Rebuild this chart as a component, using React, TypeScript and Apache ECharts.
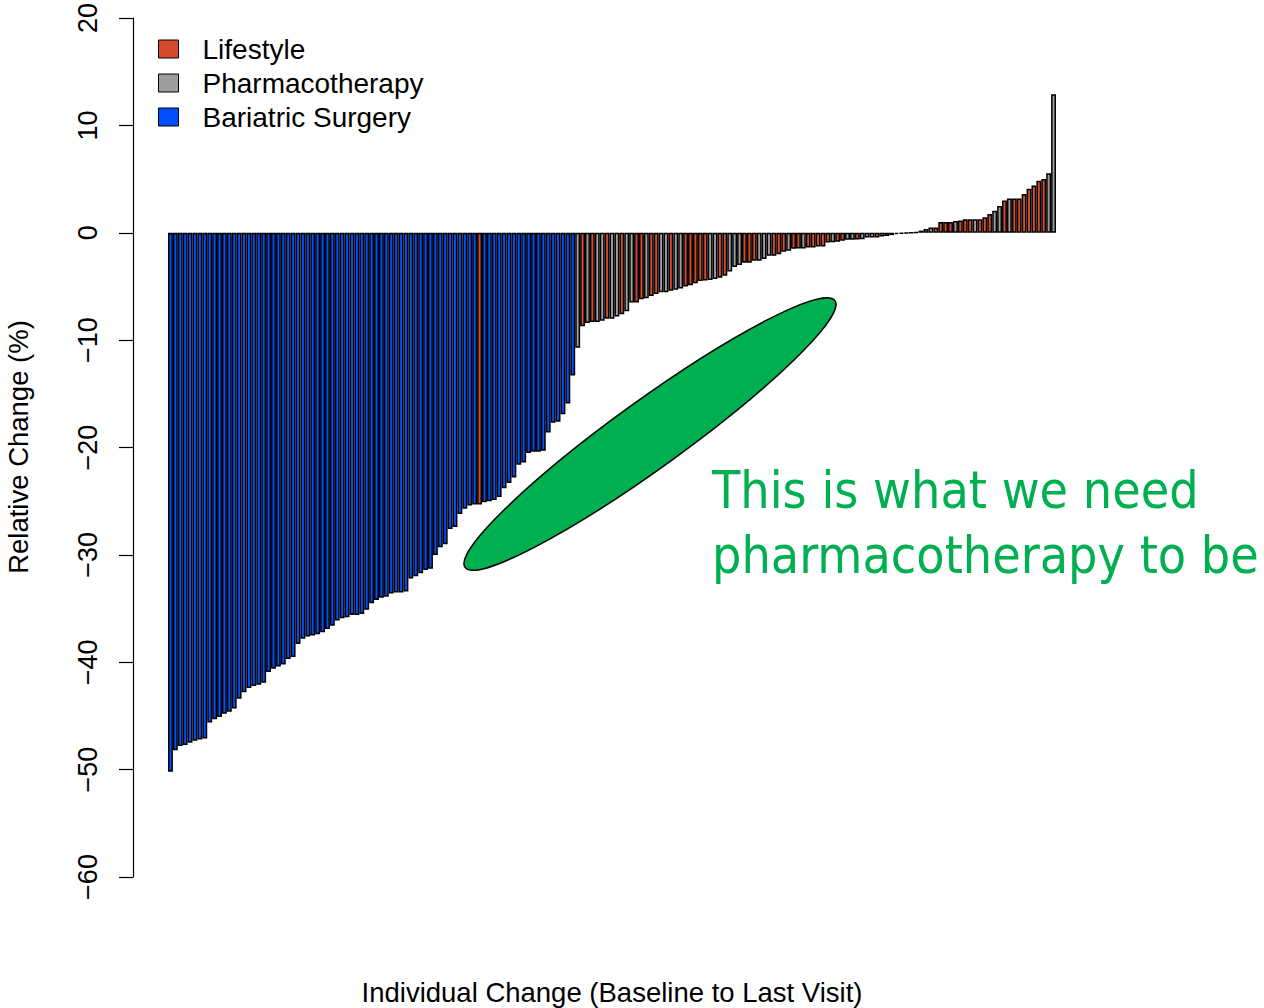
import React, { useEffect, useRef } from "react";
import * as echarts from "echarts";

// Bars sorted from largest loss to largest gain (relative change, %)
const surgerySideValues = [
  -50.2, -48.2, -47.8, -47.7, -47.5, -47.3, -47.2, -47.1, -45.6, -45.3,
  -45.1, -44.8, -44.6, -44.3, -43.4, -42.8, -42.4, -42.2, -42.1, -41.9,
  -40.9, -40.6, -40.4, -40.2, -39.7, -39.5, -38.3, -37.8, -37.6, -37.5,
  -37.4, -37.2, -36.9, -36.6, -36.1, -35.9, -35.8, -35.6, -35.6, -35.5,
  -35.1, -34.5, -34.2, -34.0, -33.9, -33.6, -33.5, -33.5, -33.4, -32.2,
  -32.0, -31.7, -31.4, -31.3, -30.0, -29.3, -29.0, -27.6, -27.4, -26.2,
  -25.7, -25.4, -25.3, -25.3, -25.1, -25.0, -24.9, -24.6, -23.8, -23.3,
  -22.8, -21.6, -21.4, -20.5, -20.4, -20.4, -20.3, -18.6, -17.7, -17.6,
  -16.9, -15.9, -13.3,
];
const surgerySideGroups = "B".repeat(63) + "L" + "B".repeat(19);

const smallLossValues = [
  -10.7, -8.7, -8.4, -8.3, -8.3, -8.2, -8.0, -8.0, -7.8, -7.6,
  -7.3, -6.5, -6.5, -6.2, -6.1, -5.9, -5.7, -5.55, -5.55, -5.4,
  -5.3, -5.2, -5.0, -4.9, -4.7, -4.5, -4.45, -4.4, -4.3, -4.2,
  -4.0, -3.6, -3.2, -3.0, -2.8, -2.8, -2.6, -2.6, -2.45, -2.15,
  -2.15, -2.0, -1.77, -1.67, -1.5, -1.46, -1.46, -1.37, -1.37, -1.27,
  -1.27, -0.9, -0.88, -0.84, -0.74, -0.65, -0.65, -0.62, -0.6, -0.43,
  -0.43, -0.43, -0.34, -0.3, -0.22, -0.13, -0.08, -0.05, -0.02,
];
const smallLossGroups =
  "PLPLPPLPPL" + "PPLLPLLPPL" + "PPLLLLLPPL" + "LPPPLLLPPP" + "LLLPLLPLLL" + "LLPLLPPLPP" + "PLPPLLPPL";

const gainValues = [
  0.05, 0.2, 0.35, 0.5, 0.5, 1.0, 1.0, 1.0, 1.1, 1.15,
  1.25, 1.25, 1.25, 1.25, 1.45, 1.75, 2.05, 2.5, 3.0, 3.2,
  3.2, 3.2, 3.6, 4.1, 4.4, 4.85, 5.0, 5.55, 12.9,
];
const gainGroups = "PLPPLLLLPL" + "LLPLLLPPLP" + "LLLLLLLPP";

const yTicks = { min: -60, max: 20, interval: 10 };

const seriesNames = { L: "Lifestyle", P: "Pharmacotherapy", B: "Bariatric Surgery" };
const seriesColors = { L: "#D64B2B", P: "#9E9E9E", B: "#0050FF" };
const legendOrder = ["L", "P", "B"];

const xTitle = "Individual Change (Baseline to Last Visit)";
const yTitle = "Relative Change (%)";
const noteLines = ["This is what we need", "pharmacotherapy to be"];

const FONT = "'Liberation Sans', Arial, Helvetica, sans-serif";
const NOTE_FONT = "51.5px 'DejaVu Sans Condensed', 'DejaVu Sans', sans-serif";

export default function App() {
  const ref = useRef<HTMLDivElement>(null);

  useEffect(() => {
    if (!ref.current) return;
    const chart = echarts.init(ref.current, undefined, { renderer: "svg" });

    const values = [...surgerySideValues, ...smallLossValues, ...gainValues];
    const groups = (surgerySideGroups + smallLossGroups + gainGroups).split("");
    const categories = values.map((_, i) => String(i + 1));

    const series = legendOrder.map((key) => ({
      name: seriesNames[key],
      type: "bar",
      barGap: "-100%",
      barCategoryGap: "0%",
      itemStyle: { color: seriesColors[key], borderColor: "#000", borderWidth: 1.5 },
      emphasis: { disabled: true },
      data: values.map((v, i) => (groups[i] === key ? v : "-")),
    }));

    chart.setOption({
      animation: false,
      backgroundColor: "#fff",
      textStyle: { fontFamily: FONT },
      grid: { left: 168, right: 208, top: 17, bottom: 131 },
      legend: {
        orient: "vertical",
        left: 158,
        top: 33,
        padding: 0,
        icon: "rect",
        itemWidth: 20,
        itemHeight: 18,
        itemGap: 2,
        selectedMode: false,
        itemStyle: { borderColor: "#000", borderWidth: 1 },
        textStyle: { fontSize: 28, color: "#000", fontFamily: FONT, padding: [0, 0, 0, 19], lineHeight: 32 },
        data: legendOrder.map((k) => seriesNames[k]),
      },
      xAxis: {
        type: "category",
        data: categories,
        show: false,
        boundaryGap: true,
      },
      yAxis: {
        type: "value",
        min: yTicks.min,
        max: yTicks.max,
        interval: yTicks.interval,
        offset: 35,
        axisLine: { show: true, lineStyle: { color: "#000", width: 1.2 } },
        axisTick: { show: true, length: 14, lineStyle: { color: "#000", width: 1.2 } },
        splitLine: { show: false },
        axisLabel: {
          rotate: 90,
          fontSize: 27,
          color: "#000",
          fontFamily: FONT,
          margin: 32,
          formatter: (v: number) => (v < 0 ? "\u2212" + Math.abs(v) : String(v)),
        },
      },
      graphic: [
        {
          type: "text",
          x: 18,
          y: 447,
          rotation: Math.PI / 2,
          style: {
            text: yTitle,
            font: `27.5px ${FONT}`,
            fill: "#000",
            textAlign: "center",
            textVerticalAlign: "middle",
          },
        },
        {
          type: "text",
          x: 612,
          y: 992,
          style: {
            text: xTitle,
            font: `27.5px ${FONT}`,
            fill: "#000",
            textAlign: "center",
            textVerticalAlign: "middle",
          },
        },
        {
          type: "ellipse",
          x: 650,
          y: 434,
          rotation: 0.625,
          shape: { cx: 0, cy: 0, rx: 228, ry: 34 },
          style: { fill: "#00B050", stroke: "#000", lineWidth: 1.5 },
          z: 100,
        },
        {
          type: "text",
          x: 712,
          y: 490,
          z: 100,
          style: {
            text: noteLines[0],
            font: NOTE_FONT,
            fill: "#00B050",
            textAlign: "left",
            textVerticalAlign: "middle",
          },
        },
        {
          type: "text",
          x: 712,
          y: 555,
          z: 100,
          style: {
            text: noteLines[1],
            font: NOTE_FONT,
            fill: "#00B050",
            textAlign: "left",
            textVerticalAlign: "middle",
          },
        },
      ],
      series,
    });

    return () => chart.dispose();
  }, []);

  return (
    <div
      ref={ref}
      style={{ position: "absolute", left: 0, top: 0, width: 1264, height: 1008 }}
    />
  );
}
